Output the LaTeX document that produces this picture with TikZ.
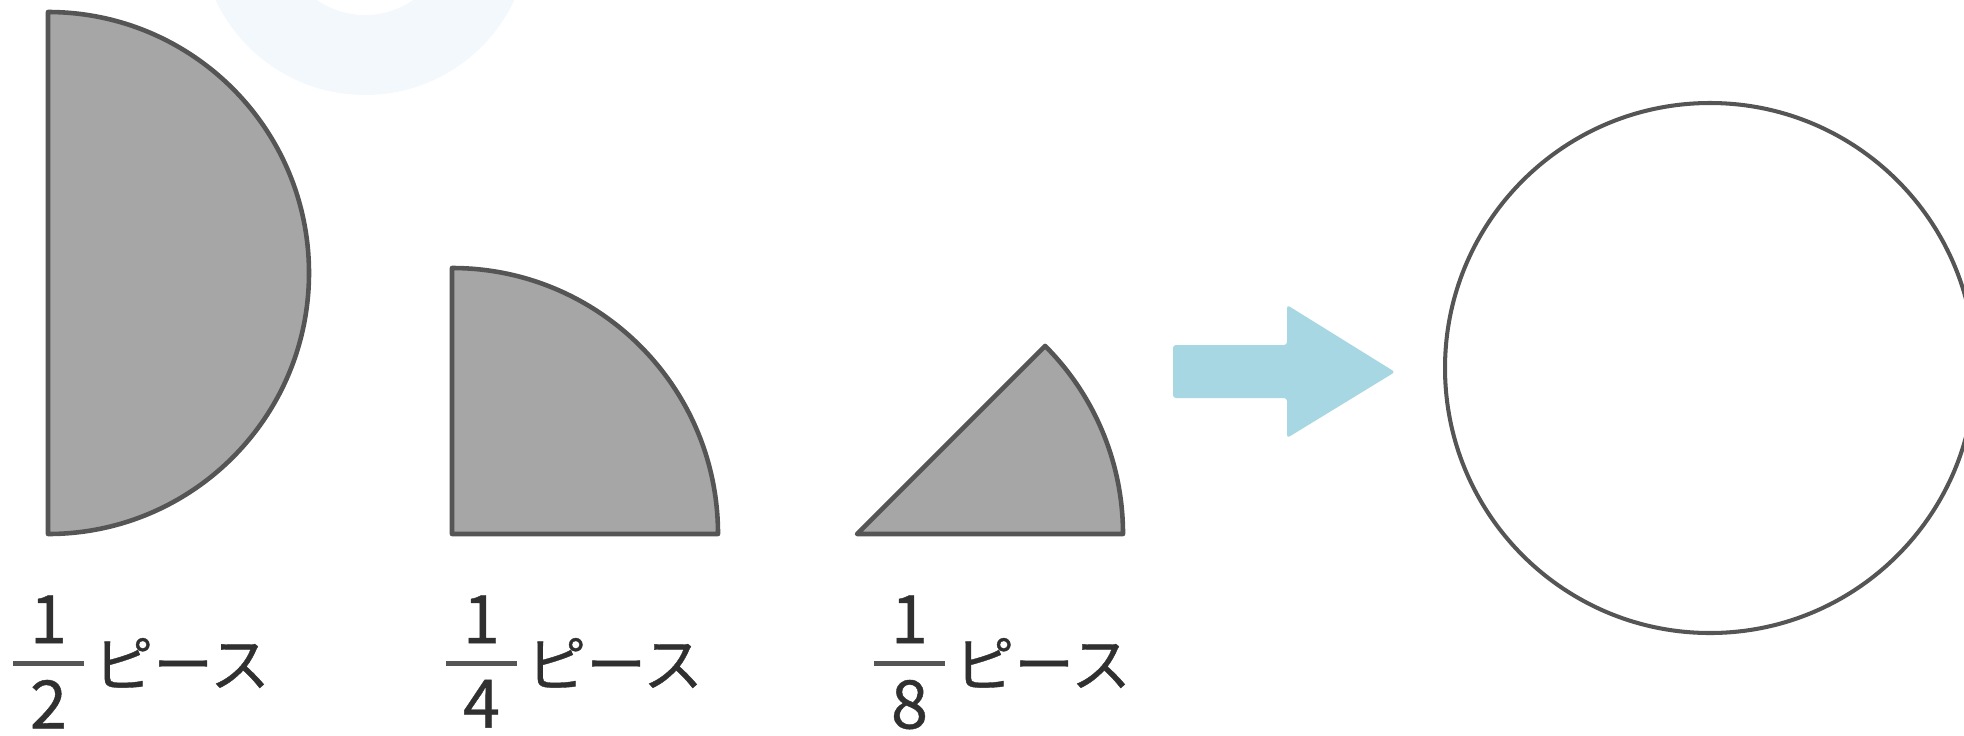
\documentclass[tikz,border=0pt]{standalone}
\usepackage{fontspec}
\setmainfont{Noto Sans CJK JP}
\newfontfamily\labelfont[FakeBold=0.6]{Noto Sans CJK JP}
\usepackage{tikz}
\usetikzlibrary{positioning}

\definecolor{pieceGray}{RGB}{166,166,166}
\definecolor{edgeGray}{RGB}{85,85,85}
\definecolor{inkGray}{RGB}{48,48,48}
\definecolor{arrowBlue}{RGB}{166,215,227}
\definecolor{markBlue}{RGB}{243,248,253}

\begin{document}
\begin{tikzpicture}[x=0.01cm, y=0.01cm,
  piece/.style={fill=pieceGray, draw=edgeGray, line width=1.3pt, line join=round},
  fracbar/.style={fill=edgeGray, inner sep=0pt, minimum width=0.71cm, minimum height=0.05cm},
  num/.style={inner sep=0pt, text=inkGray, font=\labelfont\fontsize{19pt}{19pt}\selectfont},
  kana/.style={inner sep=0pt, text=inkGray, font=\labelfont\fontsize{17pt}{17pt}\selectfont}]
\path[use as bounding box] (0,0) rectangle (1964,735);
% faint mark behind the half piece
\fill[markBlue, even odd rule] (365,805) circle[radius=165] (365,805) circle[radius=85];
% pieces
\draw[piece] (48,723) arc[start angle=90, end angle=-90, radius=261] -- cycle;
\draw[piece] (452,201) -- (718,201) arc[start angle=0, end angle=90, radius=266] -- cycle;
\draw[piece] (857,201) -- (1123,201) arc[start angle=0, end angle=45, radius=266] -- cycle;
% arrow and whole circle
\fill[arrowBlue, rounded corners=0.03cm] (1173,390) -- (1287,390) -- (1287,430) -- (1395,363)
  -- (1287,297) -- (1287,337) -- (1173,337) -- cycle;
\draw[edgeGray, line width=1.15pt] (1710,367) circle[radius=265];
% labels
\node[fracbar] (bar2) at (48.5,72) {};
\node[num, above=0.16cm of bar2] (num2) {1};
\node[num, below=0.13cm of bar2] (den2) {2};
\node[kana, right=0.08cm of bar2] (txt2) {ピース};
\node[fracbar] (bar4) at (481.5,72) {};
\node[num, above=0.16cm of bar4] (num4) {1};
\node[num, below=0.13cm of bar4] (den4) {4};
\node[kana, right=0.08cm of bar4] (txt4) {ピース};
\node[fracbar] (bar8) at (909.5,72) {};
\node[num, above=0.16cm of bar8] (num8) {1};
\node[num, below=0.13cm of bar8] (den8) {8};
\node[kana, right=0.08cm of bar8] (txt8) {ピース};
\end{tikzpicture}
\end{document}
